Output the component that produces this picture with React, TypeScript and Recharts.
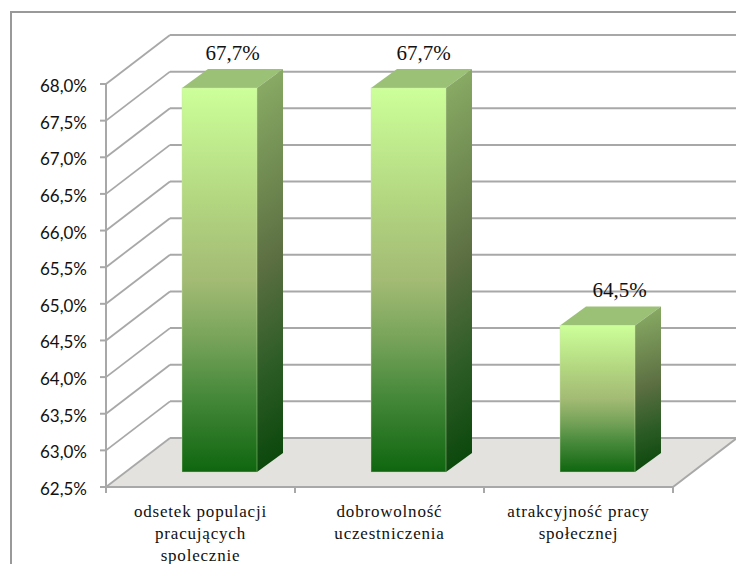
import React from "react";
import { BarChart, Bar, XAxis, YAxis, CartesianGrid, LabelList } from "recharts";

const categories = ["odsetek populacji|pracujących|spolecznie", "dobrowolność|uczestniczenia", "atrakcyjność pracy|społecznej"];
const values = [67.74, 67.74, 64.5];
const labels = ["67,7%", "67,7%", "64,5%"];
const yTicks = [62.5, 63, 63.5, 64, 64.5, 65, 65.5, 66, 66.5, 67, 67.5, 68];

const data = categories.map((name, i) => ({ name, value: values[i], label: labels[i] }));

const WALL_DX = 64;
const WALL_DY = -49;
const BAR_DX = 19;
const BAR_DY = -15;
const DEPTH_X = 26;
const DEPTH_Y = -19;
const LINE = "#a8a8a8";
const labelNudge = [13, 15, 22];

const GridLine = (props: any) => {
  const { x1, x2, y1, index } = props;
  const bx1 = x1 + WALL_DX;
  const bx2 = x2 + WALL_DX;
  const by = y1 + WALL_DY;
  return (
    <g>
      {index === 0 && (
        <>
          <polygon points={`${x1},${y1} ${x2},${y1} ${bx2},${by} ${bx1},${by}`} fill="#e3e2df" />
          <line x1={x2} y1={y1} x2={bx2} y2={by} stroke={LINE} strokeWidth={2} />
        </>
      )}
      <line x1={x1} y1={y1} x2={bx1} y2={by} stroke={LINE} strokeWidth={1.8} />
      <line x1={bx1} y1={by} x2={bx2} y2={by} stroke={LINE} strokeWidth={2} />
    </g>
  );
};

const YTick = (props: any) => {
  const { x, y, payload } = props;
  return (
    <g>
      <line x1={x + 2} y1={y} x2={x + 8} y2={y} stroke={LINE} strokeWidth={2} />
      <text x={x - 11} y={y + 8} textAnchor="end" fontFamily="Lato" fontSize={17} fill="#111">
        {payload.value.toFixed(1).replace(".", ",") + "%"}
      </text>
    </g>
  );
};

const XTick = (props: any) => {
  const { x, y, payload, index } = props;
  const half = 94.5;
  const top = y - 8;
  const lines = String(payload.value).split("|");
  return (
    <g>
      <line x1={x - half} y1={top} x2={x - half} y2={top + 6} stroke={LINE} strokeWidth={2} />
      {index === categories.length - 1 && (
        <line x1={x + half} y1={top} x2={x + half} y2={top + 6} stroke={LINE} strokeWidth={2} />
      )}
      {lines.map((t, i) => (
        <text key={i} x={x} y={top + 30 + i * 22} textAnchor="middle" fontFamily="Liberation Serif" fontSize={17} letterSpacing={0.8} fill="#111">
          {t}
        </text>
      ))}
    </g>
  );
};

const Bar3D = (props: any) => {
  const { x, y, width, height } = props;
  const fx = x + BAR_DX;
  const fy = y + BAR_DY;
  const r = fx + width;
  const b = fy + height;
  return (
    <g>
      <polygon points={`${fx},${fy} ${r},${fy} ${r + DEPTH_X},${fy + DEPTH_Y} ${fx + DEPTH_X},${fy + DEPTH_Y}`} fill="#9bc177" />
      <polygon points={`${r},${fy} ${r + DEPTH_X},${fy + DEPTH_Y} ${r + DEPTH_X},${b + DEPTH_Y} ${r},${b}`} fill="url(#sideGrad)" />
      <rect x={fx} y={fy} width={width} height={height} fill="url(#frontGrad)" stroke="#cfe8b0" strokeOpacity={0.4} />
    </g>
  );
};

const BarLabel = (props: any) => {
  const { x, y, width, value, index } = props;
  return (
    <text
      x={x + BAR_DX + width / 2 + labelNudge[index]}
      y={y + BAR_DY + DEPTH_Y - 9}
      textAnchor="middle"
      fontFamily="Liberation Serif"
      fontSize={21}
      fill="#111"
    >
      {value}
    </text>
  );
};

export default function App() {
  return (
    <div style={{ position: "absolute", left: 0, top: 0, width: 736, height: 564, overflow: "hidden", background: "#fff" }}>
      <div style={{ position: "absolute", left: 10, top: 11, width: 800, height: 700, borderLeft: "2px solid #999", borderTop: "2px solid #999" }} />
      <div style={{ position: "absolute", left: 0, top: 0 }}>
        <BarChart
          width={736}
          height={564}
          data={data}
          margin={{ top: 84, left: 40, right: 63, bottom: 27 }}
          barSize={75}
          style={{ overflow: "visible" }}
        >
          <defs>
            <linearGradient id="frontGrad" x1="0" y1="0" x2="0" y2="1">
              <stop offset="0" stopColor="#ccff99" />
              <stop offset="0.3" stopColor="#b2d580" />
              <stop offset="0.5" stopColor="#a3bb74" />
              <stop offset="0.65" stopColor="#78a45a" />
              <stop offset="0.8" stopColor="#47893b" />
              <stop offset="1" stopColor="#0f660f" />
            </linearGradient>
            <linearGradient id="sideGrad" x1="0" y1="0" x2="0.05" y2="1">
              <stop offset="0" stopColor="#8cb067" />
              <stop offset="0.5" stopColor="#5c6f42" />
              <stop offset="0.75" stopColor="#2f5d28" />
              <stop offset="1" stopColor="#0c480c" />
            </linearGradient>
          </defs>
          <CartesianGrid vertical={false} horizontal={(p: any) => <GridLine key={p.index} {...p} />} />
          <XAxis dataKey="name" height={50} tick={<XTick />} tickLine={false} axisLine={{ stroke: LINE, strokeWidth: 2 }} interval={0} />
          <YAxis
            width={66}
            domain={[62.5, 68]}
            ticks={yTicks}
            tick={<YTick />}
            tickLine={false}
            axisLine={{ stroke: LINE, strokeWidth: 2 }}
            interval={0}
          />
          <Bar dataKey="value" shape={<Bar3D />} isAnimationActive={false}>
            <LabelList dataKey="label" content={<BarLabel />} />
          </Bar>
        </BarChart>
      </div>
    </div>
  );
}
